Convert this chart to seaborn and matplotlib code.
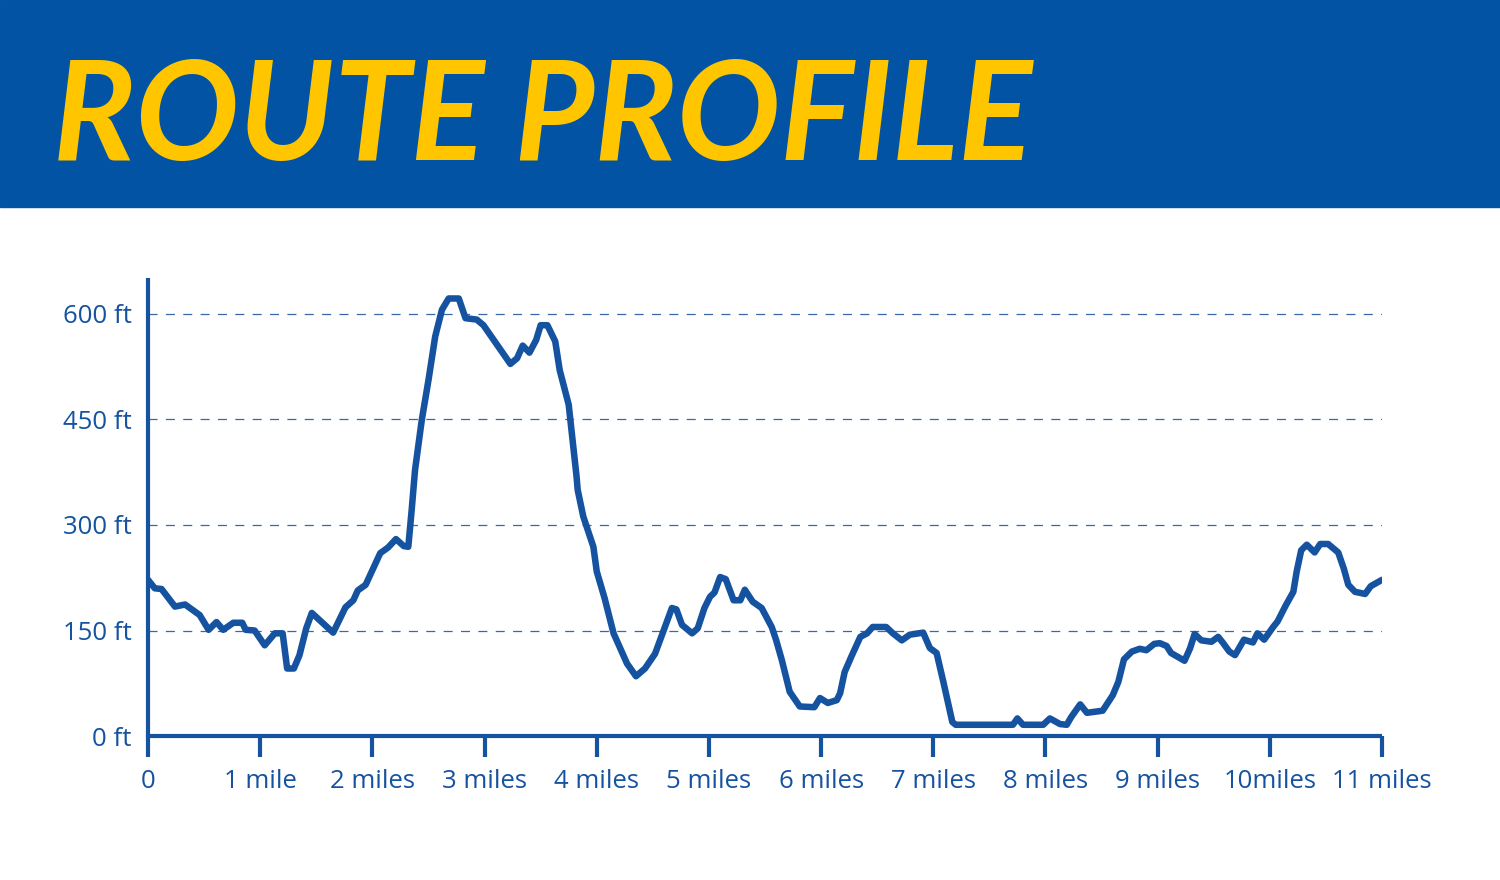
import matplotlib
matplotlib.use("Agg")
import matplotlib.pyplot as plt
import seaborn as sns
from matplotlib.patches import Rectangle

# distance along the route (miles) and elevation (ft)
miles = [0, 0.06, 0.12, 0.24, 0.33, 0.46, 0.54, 0.61, 0.67, 0.76,
         0.84, 0.87, 0.95, 1.04, 1.13, 1.20, 1.24, 1.30, 1.35, 1.41,
         1.46, 1.65, 1.76, 1.83, 1.87, 1.94, 2.07, 2.14, 2.21, 2.28,
         2.32, 2.35, 2.38, 2.44, 2.50, 2.56, 2.62, 2.68, 2.77, 2.83,
         2.93, 2.99, 3.23, 3.29, 3.34, 3.40, 3.46, 3.50, 3.56, 3.63,
         3.67, 3.75, 3.82, 3.83, 3.88, 3.97, 4.00, 4.07, 4.15, 4.27,
         4.35, 4.43, 4.52, 4.67, 4.71, 4.76, 4.85, 4.90, 4.96, 5.01,
         5.05, 5.10, 5.15, 5.22, 5.28, 5.32, 5.39, 5.47, 5.56, 5.60,
         5.65, 5.72, 5.81, 5.94, 5.99, 6.06, 6.14, 6.17, 6.21, 6.27,
         6.35, 6.41, 6.46, 6.58, 6.64, 6.72, 6.79, 6.91, 6.97, 7.03,
         7.09, 7.17, 7.20, 7.71, 7.75, 7.80, 7.98, 8.04, 8.13, 8.19,
         8.23, 8.31, 8.37, 8.51, 8.60, 8.65, 8.70, 8.77, 8.84, 8.90,
         8.97, 9.02, 9.08, 9.12, 9.24, 9.29, 9.33, 9.39, 9.48, 9.54,
         9.58, 9.64, 9.69, 9.77, 9.85, 9.89, 9.95, 10.03, 10.07, 10.14,
         10.21, 10.24, 10.28, 10.33, 10.40, 10.45, 10.52, 10.61, 10.66, 10.70,
         10.76, 10.85, 10.90, 11.00]
elevation = [222, 210, 209, 184, 187, 172, 151, 162, 151, 161,
             161, 151, 150, 129, 146, 146, 96, 96, 115, 153,
             175, 147, 183, 193, 207, 215, 260, 268, 280, 270,
             269, 321, 378, 449, 506, 568, 606, 622, 622, 594,
             592, 584, 529, 537, 555, 545, 563, 584, 584, 561,
             520, 471, 369, 350, 312, 269, 234, 196, 146, 103,
             85, 96, 117, 182, 180, 158, 146, 153, 182, 198,
             204, 226, 223, 193, 193, 208, 191, 182, 155, 136,
             108, 63, 42, 41, 54, 47, 51, 61, 91, 113,
             141, 146, 155, 155, 146, 136, 144, 147, 125, 118,
             77, 20, 16, 16, 25, 16, 16, 25, 17, 16,
             27, 45, 33, 36, 58, 77, 109, 120, 124, 122,
             131, 132, 128, 118, 107, 125, 145, 136, 134, 141,
             133, 120, 115, 137, 133, 146, 137, 155, 163, 185,
             205, 234, 264, 272, 261, 273, 273, 261, 238, 215,
             205, 202, 213, 222]

y_ticks = [0, 150, 300, 450, 600]
y_labels = ["0 ft", "150 ft", "300 ft", "450 ft", "600 ft"]
x_ticks = list(range(12))
x_labels = ["0", "1 mile", "2 miles", "3 miles", "4 miles", "5 miles", "6 miles",
            "7 miles", "8 miles", "9 miles", "10miles", "11 miles"]

BLUE = "#1553a0"
BANNER = "#0353a5"
YELLOW = "#ffc600"

sns.set_style("white")
plt.rcParams["font.family"] = ["Open Sans", "DejaVu Sans"]
plt.rcParams["lines.scale_dashes"] = False

fig = plt.figure(figsize=(15, 8.8), dpi=100)
fig.patches.append(Rectangle((0, 0.7648), 1, 0.2352, transform=fig.transFigure,
                             color=BANNER, zorder=0))
fig.text(0.035, 0.818, "ROUTE PROFILE", color=YELLOW, fontsize=99,
         fontweight="bold", fontstyle="italic", family=["Lato", "DejaVu Sans"],
         va="baseline", ha="left")

ax = fig.add_axes([0.0987, 0.1636, 0.8226, 0.5204])
sns.lineplot(x=miles, y=elevation, ax=ax, color=BLUE, linewidth=4.7,
             sort=False, estimator=None)
ax.lines[0].set_solid_joinstyle("round")
ax.lines[0].set_solid_capstyle("round")

ax.set_xlim(0, 11)
ax.set_ylim(0, 651)
ax.set_yticks(y_ticks, labels=y_labels)
ax.set_xticks(x_ticks, labels=x_labels)
ax.tick_params(axis="y", left=False, length=0, pad=12, labelsize=18.5,
               labelcolor=BLUE)
ax.tick_params(axis="x", bottom=True, length=15, width=3, color=BLUE, pad=9,
               labelsize=18.5, labelcolor=BLUE)
ax.yaxis.grid(True, color="#3a68a6", linewidth=0.9, linestyle=(0, (6.5, 6)))
ax.set_axisbelow(True)

sns.despine(ax=ax)
for side in ("left", "bottom"):
    ax.spines[side].set_linewidth(3)
    ax.spines[side].set_color(BLUE)
    ax.spines[side].set_capstyle("butt")

fig.savefig("out.png", dpi=100)
